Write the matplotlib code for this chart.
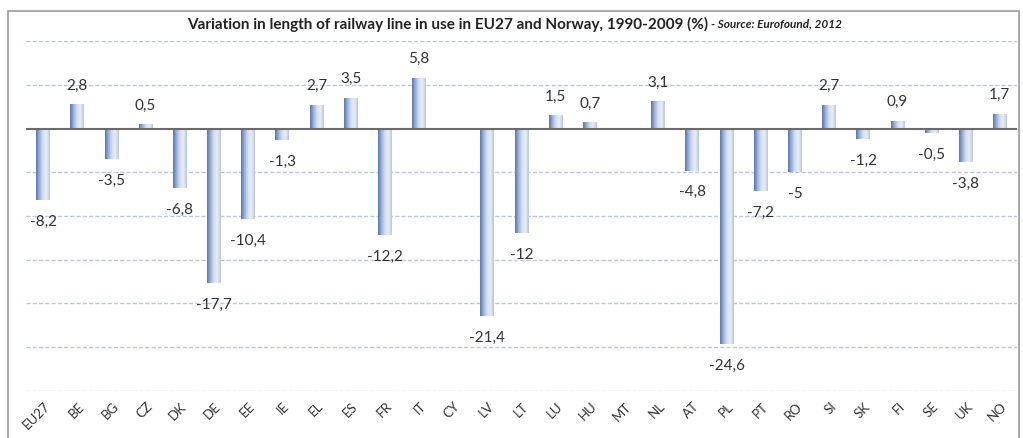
import numpy as np
import matplotlib
matplotlib.use("Agg")
import matplotlib.pyplot as plt
from matplotlib.colors import LinearSegmentedColormap
from matplotlib.patches import Rectangle
from matplotlib.transforms import ScaledTranslation

plt.rcParams['font.family'] = ['Lato', 'DejaVu Sans']

# Data (CY and MT have no value)
countries = ['EU27', 'BE', 'BG', 'CZ', 'DK', 'DE', 'EE', 'IE', 'EL', 'ES', 'FR', 'IT', 'CY',
             'LV', 'LT', 'LU', 'HU', 'MT', 'NL', 'AT', 'PL', 'PT', 'RO', 'SI', 'SK', 'FI',
             'SE', 'UK', 'NO']
variation = [-8.2, 2.8, -3.5, 0.5, -6.8, -17.7, -10.4, -1.3, 2.7, 3.5, -12.2, 5.8, None,
             -21.4, -12, 1.5, 0.7, None, 3.1, -4.8, -24.6, -7.2, -5, 2.7, -1.2, 0.9,
             -0.5, -3.8, 1.7]
grid_levels = [10, 5, -5, -10, -15, -20, -25, -30]

fig = plt.figure(figsize=(10.23, 4.39), dpi=100)
ax = fig.add_axes([0.0254, 0.1071, 0.9687, 0.7972])

# outer frame like the original screenshot
fig.patches.append(Rectangle((0.008, -0.01), 0.988, 0.983, transform=fig.transFigure,
                             fill=False, edgecolor='#9a9a9a', linewidth=1.2))

x = np.arange(len(countries))
vals = np.array([np.nan if v is None else v for v in variation])
width = 0.4

# gradient bars: dark blue on the left fading to pale on the right
cmap = LinearSegmentedColormap.from_list('bar', ['#5676ad', '#9ab1d9', '#d6dff0', '#eaeef6', '#bcc6d8'])
grad = np.linspace(0, 1, 64).reshape(1, -1)
bars = ax.bar(x, np.nan_to_num(vals), width=width, color='none', edgecolor='none', zorder=3)
for bar, v in zip(bars, vals):
    if np.isnan(v):
        continue
    x0 = bar.get_x()
    y0, y1 = sorted([0, v])
    im = ax.imshow(grad, cmap=cmap, aspect='auto', extent=[x0, x0 + width, y0, y1],
                   zorder=3, interpolation='bicubic')
    im.set_clip_path(bar)

# data labels with comma decimals
for xi, v in zip(x, vals):
    if np.isnan(v):
        continue
    txt = ('%g' % v).replace('.', ',')
    off = 9 if v > 0 else -10
    ax.annotate(txt, (xi, v), xytext=(0, off), textcoords='offset points',
                ha='center', va='bottom' if v > 0 else 'top', fontsize=11, color='#333333')

for g in grid_levels:
    ax.axhline(g, color='#b8c8e0', linewidth=1, linestyle=(0, (3, 1.5)), zorder=1)
ax.axhline(0, color='#6a6a6a', linewidth=1.5, zorder=4)

ax.set_xlim(-0.5, len(countries) - 0.5)
ax.set_ylim(-30, 10)
ax.set_yticks([])
ax.set_xticks(x)
ax.set_xticklabels(countries, rotation=45, ha='right', va='center', rotation_mode='anchor',
                   fontsize=9.5, color='#333333')
ax.tick_params(axis='x', length=0, pad=9)
shift = ScaledTranslation(5 / 100, 0, fig.dpi_scale_trans)
for lbl in ax.get_xticklabels():
    lbl.set_transform(lbl.get_transform() + shift)
for s in ax.spines.values():
    s.set_visible(False)

# title in two parts: bold main text, then smaller bold italic source
title_main = fig.text(0.183, 0.945,
                      'Variation in length of railway line in use in EU27 and Norway, 1990-2009 (%)',
                      ha='left', va='center', fontsize=11, fontweight='bold', color='#222222')
fig.canvas.draw()
bb = title_main.get_window_extent()
fig.text(bb.x1 / fig.bbox.width + 0.003, 0.945, '- Source: Eurofound, 2012',
         ha='left', va='center', fontsize=8.5, fontweight='bold', style='italic', color='#222222')

fig.savefig('out.png', dpi=100)
